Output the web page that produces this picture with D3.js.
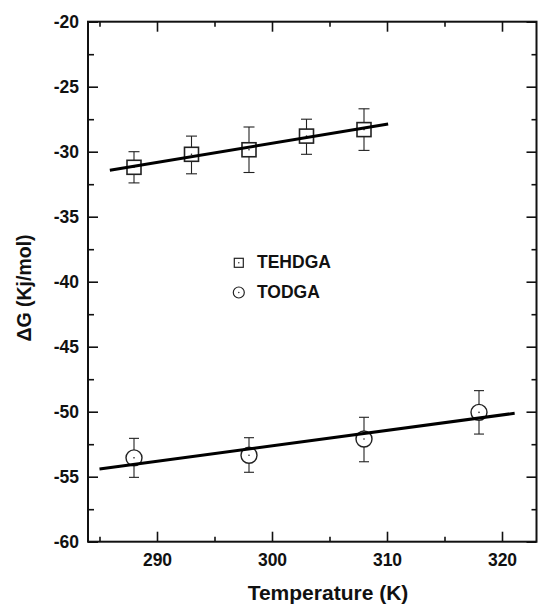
<!DOCTYPE html>
<html>
<head>
<meta charset="utf-8">
<script src="https://cdn.jsdelivr.net/npm/d3@7"></script>
<style>
  html, body { margin: 0; padding: 0; background: #fff; }
  svg { display: block; font-family: "Liberation Sans", Arial, Helvetica, sans-serif; }
</style>
</head>
<body>
<svg id="chart" width="538" height="604"></svg>
<script>
// ── data ───────────────────────────────────────────────────────────────
const tehdgaT    = [288, 293, 298, 303, 308];
const tehdgaG    = [-31.2, -30.2, -29.85, -28.8, -28.3];
const tehdgaHigh = [-30.0, -28.8, -28.1, -27.5, -26.7];
const tehdgaLow  = [-32.4, -31.7, -31.6, -30.2, -29.9];

const todgaT    = [288, 298, 308, 318];
const todgaG    = [-53.55, -53.35, -52.1, -50.05];
const todgaHigh = [-52.05, -52.0, -50.43, -48.38];
const todgaLow  = [-55.05, -54.66, -53.85, -51.72];

// linear fit lines, end points
const fitTehdgaT = [285.9, 310.1];
const fitTehdgaG = [-31.43, -27.87];
const fitTodgaT  = [285.0, 321.1];
const fitTodgaG  = [-54.41, -50.12];

const xMajor = [290, 300, 310, 320];
const xMinor = [285, 295, 305, 315];
const yMajor = [-60, -55, -50, -45, -40, -35, -30, -25, -20];
const yMinor = [-57.5, -52.5, -47.5, -42.5, -37.5, -32.5, -27.5, -22.5];

// ── geometry ───────────────────────────────────────────────────────────
const L = 88, R = 536.5, T = 21.7, B = 541.7;
const svg = d3.select("#chart");

const x = d3.scaleLinear().domain([284, 323]).range([L, R]);
const y = d3.scaleLinear().domain([-60, -20]).range([B, T]);

const ink = "#111";

function styleAxis(g) {
    g.select(".domain").remove();
    g.selectAll("line").attr("stroke", ink).attr("stroke-width", 1.6);
    g.selectAll("text")
        .attr("fill", ink)
        .style("font-size", "17.5px")
        .style("font-weight", "bold");
}

// bottom
svg.append("g").attr("transform", `translate(0,${B})`)
    .call(d3.axisBottom(x).tickValues(xMajor).tickSize(-10).tickPadding(12))
    .call(styleAxis);
svg.append("g").attr("transform", `translate(0,${B})`)
    .call(d3.axisBottom(x).tickValues(xMinor).tickSize(-5).tickFormat(""))
    .call(styleAxis);
// top
svg.append("g").attr("transform", `translate(0,${T})`)
    .call(d3.axisTop(x).tickValues(xMajor).tickSize(-10).tickFormat(""))
    .call(styleAxis);
svg.append("g").attr("transform", `translate(0,${T})`)
    .call(d3.axisTop(x).tickValues(xMinor).tickSize(-5).tickFormat(""))
    .call(styleAxis);
// left
svg.append("g").attr("transform", `translate(${L},0)`)
    .call(d3.axisLeft(y).tickValues(yMajor).tickSize(-10).tickPadding(9).tickFormat(d => String(d)))
    .call(styleAxis);
svg.append("g").attr("transform", `translate(${L},0)`)
    .call(d3.axisLeft(y).tickValues(yMinor).tickSize(-6).tickFormat(""))
    .call(styleAxis);
// right
svg.append("g").attr("transform", `translate(${R},0)`)
    .call(d3.axisRight(y).tickValues(yMajor).tickSize(-10).tickFormat(""))
    .call(styleAxis);
svg.append("g").attr("transform", `translate(${R},0)`)
    .call(d3.axisRight(y).tickValues(yMinor).tickSize(-5).tickFormat(""))
    .call(styleAxis);

// frame
svg.append("rect")
    .attr("x", L).attr("y", T)
    .attr("width", R - L).attr("height", B - T)
    .attr("fill", "none")
    .attr("stroke", ink)
    .attr("stroke-width", 2);

// ── error bars ─────────────────────────────────────────────────────────
function errorBars(ts, hi, lo, cap) {
    const g = svg.append("g").attr("stroke", "#222").attr("stroke-width", 1.1).attr("fill", "none");
    ts.forEach((t, i) => {
        const cx = x(t);
        g.append("line").attr("x1", cx).attr("x2", cx).attr("y1", y(hi[i])).attr("y2", y(lo[i]));
        g.append("line").attr("x1", cx - cap / 2).attr("x2", cx + cap / 2).attr("y1", y(hi[i])).attr("y2", y(hi[i]));
        g.append("line").attr("x1", cx - cap / 2).attr("x2", cx + cap / 2).attr("y1", y(lo[i])).attr("y2", y(lo[i]));
    });
}
errorBars(tehdgaT, tehdgaHigh, tehdgaLow, 11);
errorBars(todgaT, todgaHigh, todgaLow, 10);

// ── markers ────────────────────────────────────────────────────────────
function dot(cx, cy) {
    svg.append("circle").attr("cx", cx).attr("cy", cy).attr("r", 0.8).attr("fill", "#222");
}

const sq = 14;
tehdgaT.forEach((t, i) => {
    svg.append("rect")
        .attr("x", x(t) - sq / 2).attr("y", y(tehdgaG[i]) - sq / 2)
        .attr("width", sq).attr("height", sq)
        .attr("fill", "#fff")
        .attr("stroke", "#222")
        .attr("stroke-width", 1.6);
    dot(x(t), y(tehdgaG[i]));
});

todgaT.forEach((t, i) => {
    svg.append("circle")
        .attr("cx", x(t)).attr("cy", y(todgaG[i]))
        .attr("r", 8)
        .attr("fill", "#fff")
        .attr("stroke", "#222")
        .attr("stroke-width", 1.4);
    dot(x(t), y(todgaG[i]));
});

// ── fit lines (on top of the markers) ──────────────────────────────────
const line = d3.line().x(d => x(d[0])).y(d => y(d[1]));
[[fitTehdgaT, fitTehdgaG], [fitTodgaT, fitTodgaG]].forEach(([ts, gs]) => {
    svg.append("path")
        .datum(d3.zip(ts, gs))
        .attr("d", line)
        .attr("fill", "none")
        .attr("stroke", "#000")
        .attr("stroke-width", 3);
});

// ── legend ─────────────────────────────────────────────────────────────
const leg = svg.append("g");
leg.append("rect")
    .attr("x", 234.3).attr("y", 258.3).attr("width", 9).attr("height", 9)
    .attr("fill", "#fff").attr("stroke", "#222").attr("stroke-width", 1.2);
leg.append("circle").attr("cx", 238.8).attr("cy", 262.8).attr("r", 0.7).attr("fill", "#222");
leg.append("circle")
    .attr("cx", 238.8).attr("cy", 292.5).attr("r", 5.5)
    .attr("fill", "#fff").attr("stroke", "#222").attr("stroke-width", 1.2);
leg.append("circle").attr("cx", 238.8).attr("cy", 292.5).attr("r", 0.7).attr("fill", "#222");
leg.selectAll("text.leg")
    .data(["TEHDGA", "TODGA"])
    .join("text")
    .attr("x", 257)
    .attr("y", (d, i) => i === 0 ? 268.3 : 298.3)
    .attr("fill", ink)
    .style("font-size", "17.5px")
    .style("font-weight", "bold")
    .text(d => d);

// ── axis titles ────────────────────────────────────────────────────────
svg.append("text")
    .attr("x", 328).attr("y", 599.5)
    .attr("text-anchor", "middle")
    .attr("fill", ink)
    .style("font-size", "21px")
    .style("font-weight", "bold")
    .text("Temperature (K)");

svg.append("text")
    .attr("transform", `translate(31,288) rotate(-90)`)
    .attr("text-anchor", "middle")
    .attr("fill", ink)
    .style("font-size", "19.5px")
    .style("font-weight", "bold")
    .text("\u0394G (Kj/mol)");
</script>
</body>
</html>
